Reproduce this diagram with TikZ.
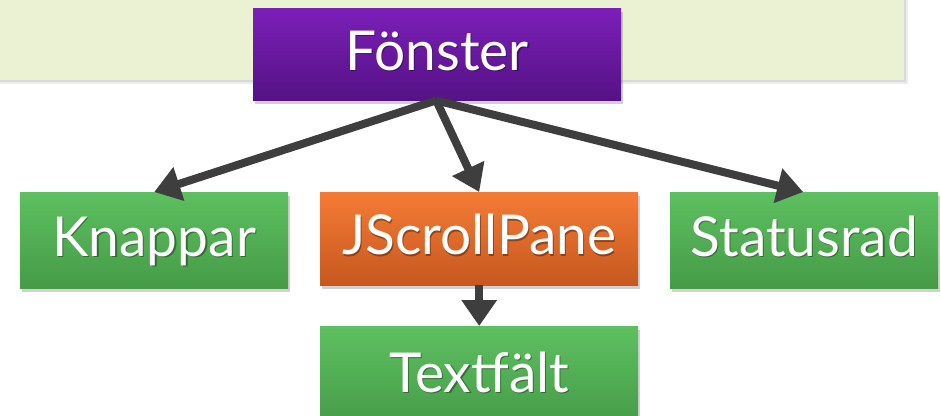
\documentclass[tikz,border=0pt]{standalone}
\usepackage{fontspec}
\setmainfont{Lato}
\usetikzlibrary{arrows.meta}
\definecolor{panel}{HTML}{EBF2D3}
\definecolor{purpleT}{HTML}{7B1FB8}
\definecolor{purpleB}{HTML}{551285}
\definecolor{greenT}{HTML}{5DC060}
\definecolor{greenB}{HTML}{469B47}
\definecolor{orangeT}{HTML}{F47B35}
\definecolor{orangeB}{HTML}{C7581F}
\definecolor{arrowgray}{HTML}{3E3E3E}
\tikzset{
  box/.style={inner sep=0pt},
  greenbox/.style={box, top color=greenT, bottom color=greenB},
  purplebox/.style={box, top color=purpleT, bottom color=purpleB},
  orangebox/.style={box, top color=orangeT, bottom color=orangeB},
  label/.style={text=white, inner sep=0pt, font=\fontsize{55}{55}\selectfont},
  labelshade/.style={label, text=black, text opacity=0.35},
  shade/.style={fill=black, opacity=0.18},
  link/.style={draw=arrowgray, line width=8pt,
    -{Triangle[length=26pt,width=34pt]}},
}
% shadowed box with a softly shadowed label:
% \shadowbox{name}{style}{x}{y}{width}{height}{text}
\newcommand{\shadowbox}[7]{%
  \fill[shade] (#3+2,#4+4) rectangle ++(#5,#6);
  \node[#2, minimum width=#5 pt, minimum height=#6 pt, anchor=north west]
    (#1) at (#3,#4) {};
  \node[labelshade] at ([xshift=1.2pt,yshift=-1.8pt]#1.center)
    {\raisebox{0pt}[0.7em][0.12em]{#7}};
  \node[label] (#1-text) at (#1.center)
    {\raisebox{0pt}[0.7em][0.12em]{#7}};
}
\begin{document}
\begin{tikzpicture}[x=1pt,y=-1pt]
  \useasboundingbox (0,0) rectangle (941,415);
  \fill[white] (0,0) rectangle (941,415);
  % background panel
  \fill[black, opacity=0.08] (-10,-10) rectangle (908,84);
  \fill[black, opacity=0.08] (-10,-10) rectangle (906,82);
  \fill[panel] (-10,-10) rectangle (904,80);

  \shadowbox{f}{purplebox}{253}{8}{368}{92}{Fönster}
  \shadowbox{k}{greenbox}{20}{192}{268}{96}{Knappar}
  \shadowbox{j}{orangebox}{320}{192}{318}{93}{JScrollPane}
  \shadowbox{s}{greenbox}{670}{192}{268}{96}{Statusrad}
  \shadowbox{t}{greenbox}{320}{326}{318}{100}{Textfält}

  \coordinate (root) at ([xshift=-1pt]f.south);
  \draw[link] (root) -- (k.north);
  \draw[link] (root) -- (j.north);
  \draw[link] (root) -- ([xshift=-1pt]s.north);
  \draw[link] (j.south) -- (t.north);
\end{tikzpicture}
\end{document}
